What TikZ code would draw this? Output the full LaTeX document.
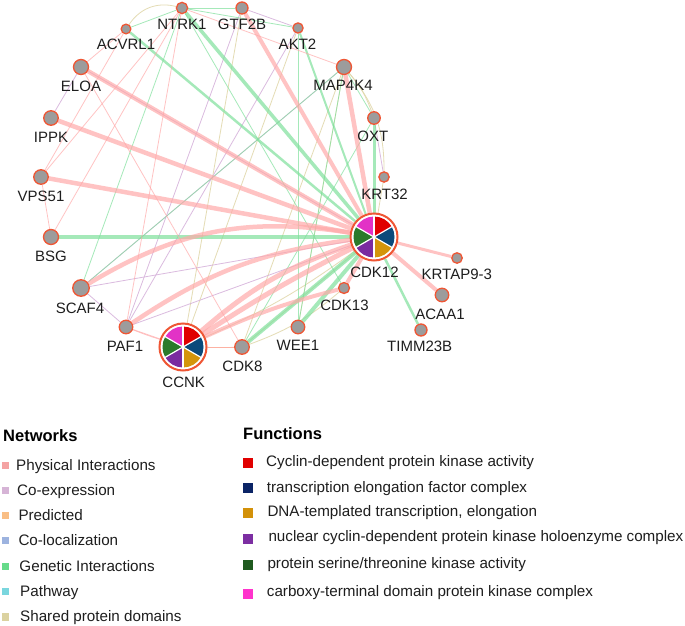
\documentclass[tikz,border=0pt]{standalone}
\usepackage{fontspec}
\setmainfont{Liberation Sans}
\usetikzlibrary{backgrounds}
\definecolor{nodegray}{HTML}{9C9C9C}
\definecolor{nodeborder}{HTML}{EF5634}
\definecolor{phys}{HTML}{FFA8A8}
\definecolor{gene}{HTML}{7FE09C}
\definecolor{coex}{HTML}{D5B0DA}
\definecolor{shar}{HTML}{E0D6A8}
\definecolor{predc}{HTML}{F9C596}
\definecolor{lphys}{HTML}{F4A3A3}
\definecolor{lcoex}{HTML}{D6B4D6}
\definecolor{lpred}{HTML}{F9BE85}
\definecolor{lcoloc}{HTML}{9DB3DF}
\definecolor{lgene}{HTML}{66DB8A}
\definecolor{lpath}{HTML}{7AD6DE}
\definecolor{lshar}{HTML}{DBD2A0}
\definecolor{fred}{HTML}{E10000}
\definecolor{fnavy}{HTML}{0B2466}
\definecolor{fgold}{HTML}{D39109}
\definecolor{fpurp}{HTML}{7C2EA2}
\definecolor{fgreen}{HTML}{1F5A1F}
\definecolor{fmag}{HTML}{FF33CC}
\definecolor{pieR}{HTML}{E00000}
\definecolor{pieB}{HTML}{0B4A7B}
\definecolor{pieG}{HTML}{D4950B}
\definecolor{pieP}{HTML}{7A2BA0}
\definecolor{pieGr}{HTML}{2B7A2B}
\definecolor{pieM}{HTML}{E232C6}
\definecolor{txt}{HTML}{1E1E1E}
\tikzset{
  gn/.style={circle, fill=nodegray, draw=nodeborder, line width=1.3pt, inner sep=0pt},
  hub/.style={circle, fill=white, draw=nodeborder, line width=2pt, minimum size=47pt, inner sep=0pt},
  lbl/.style={font=\fontsize{15}{18}\selectfont, text=txt, inner sep=0pt, anchor=base},
  legtxt/.style={font=\fontsize{15.2}{18}\selectfont, text=txt, inner sep=0pt, anchor=base west},
  legtitle/.style={font=\bfseries\fontsize{16.5}{20}\selectfont, text=black, inner sep=0pt, anchor=base west},
  nsq/.style={minimum size=7.5pt, inner sep=0pt, draw=none},
  fsq/.style={minimum size=10pt, inner sep=0pt, draw=none},
  ph/.style={draw=phys, line width=#1, opacity=.68}, ph/.default=0.8pt,
  ge/.style={draw=gene, line width=#1, opacity=.7}, ge/.default=0.8pt,
  ce/.style={draw=coex, line width=#1, opacity=.85}, ce/.default=0.8pt,
  sd/.style={draw=shar, line width=#1, opacity=.85}, sd/.default=0.8pt,
  pr/.style={draw=predc, line width=#1}, pr/.default=1pt,
}
\newcommand{\genenode}[7]{%
  \node[gn, minimum size=#4pt] (#1) at (#2,#3) {};
  \node[lbl] (l#1) at (#6,#7) {#5};}
\newcommand{\pienode}[1]{%
  \foreach \a/\c in {30/pieR,-30/pieB,-90/pieG,-150/pieP,150/pieGr,90/pieM}{
    \fill[\c] (#1.center) -- ++(\a:20.5pt) arc[start angle=\a, delta angle=60, radius=20.5pt] -- cycle;}
  \foreach \a in {30,90,150,210,270,330}{
    \draw[white, line width=1.2pt] (#1.center) -- ++(\a:21pt);}}
\begin{document}
\begin{tikzpicture}[x=1pt, y=-1pt]
\useasboundingbox (0,0) rectangle (685,626);
% ---------- nodes ----------
\genenode{ntrk1}{182}{8}{11.3}{NTRK1}{182}{30}
\genenode{acvrl1}{126}{29}{9.7}{ACVRL1}{126}{50}
\genenode{eloa}{81}{67}{15}{ELOA}{81}{91}
\genenode{ippk}{51}{118}{14.5}{IPPK}{51}{142}
\genenode{vps51}{41}{177}{14.5}{VPS51}{41}{201}
\genenode{bsg}{51}{237}{15}{BSG}{51}{261}
\genenode{scaf4}{81}{288}{16.5}{SCAF4}{80}{313}
\genenode{paf1}{126}{327}{13.5}{PAF1}{125}{351}
\genenode{cdk8}{242}{347}{14.5}{CDK8}{242.5}{371.5}
\genenode{wee1}{298}{327}{13.5}{WEE1}{298}{350}
\genenode{cdk13}{344}{288}{11}{CDK13}{344.5}{310.7}
\genenode{krt32}{384}{177}{10.3}{KRT32}{384.5}{199.3}
\genenode{krtap}{457}{258}{10.5}{KRTAP9-3}{456.8}{279.3}
\genenode{acaa1}{442}{295}{13.5}{ACAA1}{440}{319.3}
\genenode{timm}{421}{330}{12}{TIMM23B}{419.7}{351.7}
\genenode{gtf2b}{242}{8}{12}{GTF2B}{242}{30}
\genenode{akt2}{298}{28}{10.2}{AKT2}{297.5}{50}
\genenode{map4k4}{344}{67}{15}{MAP4K4}{343}{90}
\genenode{oxt}{374}{118}{12.5}{OXT}{372.8}{141.7}
\node[hub] (cdk12) at (374,237) {};
\node[lbl] (lcdk12) at (374.5,277.3) {CDK12};
\node[hub] (ccnk) at (183,347) {};
\node[lbl] (lccnk) at (183.7,387.5) {CCNK};
\pienode{cdk12}
\pienode{ccnk}
% ---------- edges ----------
\begin{scope}[on background layer]
\fill[white] (0,0) rectangle (685,626);
% shared protein domains
\draw[sd] (acvrl1) to[bend left=35] (ntrk1);
\draw[sd] (gtf2b) -- (ccnk);
\draw[sd] (akt2) -- (ccnk);
\draw[sd] (map4k4) to[bend left=20] (krt32);
\draw[sd] (map4k4) to[bend left=10] (oxt);
\draw[sd] (map4k4) -- (cdk8);
\draw[sd] (map4k4) -- (wee1);
\draw[sd] (cdk8) -- (cdk12);
\draw[sd] (ccnk) to[bend right=6] (cdk12);
\draw[sd] (krt32) -- (cdk12);
\draw[sd] (cdk8) to[bend right=10] (cdk13);
% co-expression
\draw[ce] (eloa) -- (ippk);
\draw[ce] (eloa) -- (cdk12);
\draw[ce] (gtf2b) -- (akt2);
\draw[ce] (oxt) -- (krt32);
\draw[ce] (paf1) -- (akt2);
\draw[ce] (paf1) -- (gtf2b);
\draw[ce] (paf1) -- (cdk12);
\draw[ce] (paf1) -- (scaf4);
\draw[ce] (scaf4) -- (cdk12);
\draw[ce] (scaf4) -- (map4k4);
% predicted
\draw[pr] (ccnk) -- (cdk8);
% genetic interactions
\draw[ge=4.5pt] (bsg) -- (cdk12);
\draw[ge=3.5pt] (ntrk1) -- (cdk12);
\draw[ge=2.5pt] (acvrl1) -- (cdk12);
\draw[ge=2pt] (akt2) -- (cdk12);
\draw[ge=3pt] (oxt) -- (cdk12);
\draw[ge=4pt] (wee1) -- (cdk12);
\draw[ge=4pt] (cdk8) -- (cdk12);
\draw[ge=2.5pt] (timm) -- (cdk12);
\draw[ge] (scaf4) -- (ntrk1);
\draw[ge] (scaf4) -- (map4k4);
\draw[ge] (ntrk1) -- (cdk13);
\draw[ge] (akt2) -- (wee1);
\draw[ge] (ntrk1) -- (gtf2b);
\draw[ge] (ntrk1) -- (akt2);
\draw[ge] (ntrk1) -- (acvrl1);
\draw[ge] (wee1) -- (map4k4);
\draw[ge] (map4k4) -- (oxt);
\draw[ge] (cdk8) -- (oxt);
% physical interactions
\draw[ph=4.5pt] (ippk) -- (cdk12);
\draw[ph=4.5pt] (vps51) -- (cdk12);
\draw[ph=4.5pt] (eloa) -- (cdk12);
\draw[ph=4.5pt] (scaf4) to[bend left=20] (cdk12);
\draw[ph=4.5pt] (paf1) to[bend left=13] (cdk12);
\draw[ph=5pt] (ccnk) to[bend left=11] (cdk12);
\draw[ph=5pt] (ccnk) to[bend left=3] (cdk12);
\draw[ph=4pt] (ccnk) to[bend left=5] (cdk13);
\draw[ph=4pt] (cdk13) -- (cdk12);
\draw[ph=4pt] (gtf2b) -- (cdk12);
\draw[ph=4.5pt] (map4k4) -- (cdk12);
\draw[ph=4pt] (acaa1) -- (cdk12);
\draw[ph=3pt] (krtap) -- (cdk12);
\draw[ph] (vps51) -- (bsg);
\draw[ph] (ntrk1) -- (vps51);
\draw[ph] (ntrk1) -- (bsg);
\draw[ph] (acvrl1) -- (eloa);
\draw[ph] (acvrl1) -- (vps51);
\draw[ph] (ntrk1) -- (paf1);
\draw[ph] (eloa) -- (cdk8);
\draw[ph] (ntrk1) -- (map4k4);
\draw[ph] (paf1) -- (ccnk);
\draw[ph] (paf1) to[bend right=12] (cdk8);
\end{scope}
% ---------- legend: networks ----------
\node[legtitle] (nettitle) at (3,441) {Networks};
\node[nsq, fill=lphys] (nsq1) at (5.5,465.5) {};
\node[nsq, fill=lcoex] (nsq2) at (5.5,490.3) {};
\node[nsq, fill=lpred] (nsq3) at (5.5,515.7) {};
\node[nsq, fill=lcoloc] (nsq4) at (5.5,540.3) {};
\node[nsq, fill=lgene] (nsq5) at (5.5,566.3) {};
\node[nsq, fill=lpath] (nsq6) at (5.5,591.3) {};
\node[nsq, fill=lshar] (nsq7) at (5.5,617) {};
\node[legtxt] (nt1) at (16,470.3) {Physical Interactions};
\node[legtxt] (nt2) at (17,495) {Co-expression};
\node[legtxt] (nt3) at (18.3,520.4) {Predicted};
\node[legtxt] (nt4) at (18.3,545) {Co-localization};
\node[legtxt] (nt5) at (19.3,571) {Genetic Interactions};
\node[legtxt] (nt6) at (20,596) {Pathway};
\node[legtxt] (nt7) at (20,621.5) {Shared protein domains};
% ---------- legend: functions ----------
\node[legtitle] (funtitle) at (243,439.3) {Functions};
\node[fsq, fill=fred] (fsq1) at (248,463) {};
\node[fsq, fill=fnavy] (fsq2) at (248,488.3) {};
\node[fsq, fill=fgold] (fsq3) at (248,512.7) {};
\node[fsq, fill=fpurp] (fsq4) at (248,538.7) {};
\node[fsq, fill=fgreen] (fsq5) at (248,565) {};
\node[fsq, fill=fmag] (fsq6) at (248,593.7) {};
\node[legtxt] (ft1) at (266,466.7) {Cyclin-dependent protein kinase activity};
\node[legtxt] (ft2) at (266.7,492.3) {transcription elongation factor complex};
\node[legtxt] (ft3) at (267.3,516) {DNA-templated transcription, elongation};
\node[legtxt] (ft4) at (268.3,541.7) {nuclear cyclin-dependent protein kinase holoenzyme complex};
\node[legtxt] (ft5) at (267.3,568.3) {protein serine/threonine kinase activity};
\node[legtxt] (ft6) at (266.7,596.7) {carboxy-terminal domain protein kinase complex};
\end{tikzpicture}
\end{document}
